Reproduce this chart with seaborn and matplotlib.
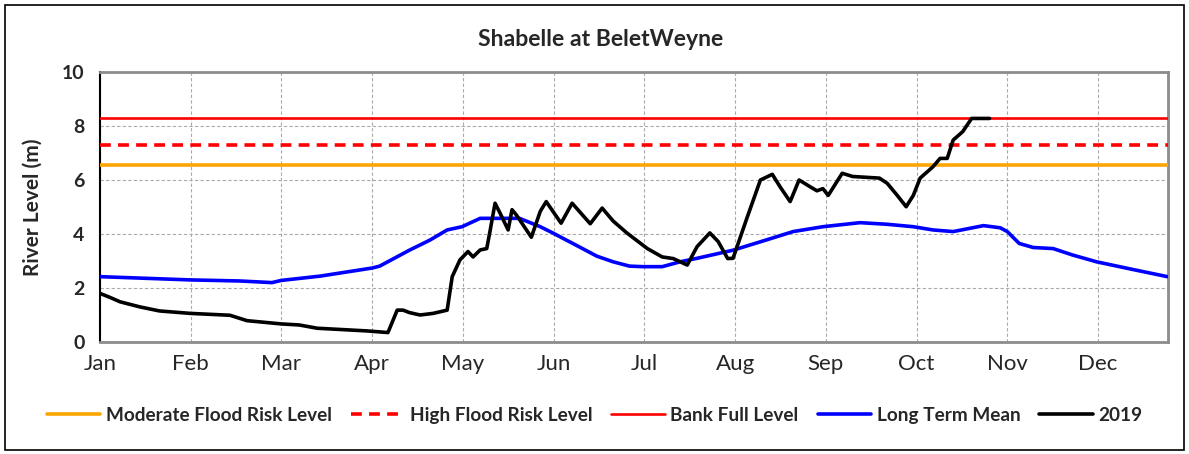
import numpy as np
import pandas as pd
import matplotlib
matplotlib.use("Agg")
import matplotlib.pyplot as plt
import seaborn as sns
from matplotlib.patches import Rectangle

# ---- data ----
months = ["Jan", "Feb", "Mar", "Apr", "May", "Jun", "Jul", "Aug", "Sep", "Oct", "Nov", "Dec"]
moderate_level = 6.55
high_level = 7.3
bankfull_level = 8.3

ltm_day = [0, 30.3, 47, 57.8, 60.9, 74, 91.5, 94, 104, 111, 116.7, 121.7, 127.8, 141, 148, 152,
           161, 167, 172.5, 178, 182.6, 189, 195, 200.7, 212.8, 224, 233, 243, 255.5, 264.6,
           273.4, 280, 286.8, 297, 302.6, 305, 309, 313.7, 320.4, 327, 335, 347, 358.8]
ltm_val = [2.42, 2.30, 2.26, 2.2, 2.28, 2.44, 2.74, 2.81, 3.4, 3.78, 4.15, 4.27, 4.58, 4.58, 4.27, 4.05,
           3.53, 3.18, 2.97, 2.81, 2.79, 2.79, 2.97, 3.1, 3.4, 3.78, 4.09, 4.27, 4.42, 4.36,
           4.27, 4.15, 4.09, 4.31, 4.23, 4.09, 3.65, 3.5, 3.46, 3.22, 2.97, 2.69, 2.42]

y19_day = [0, 3.4, 6.7, 13.4, 20, 30.3, 43.7, 49.4, 60.9, 67, 73, 89.8, 96.8, 99.9, 101.9, 104,
           107.6, 112, 116.7, 118.4, 121, 123.7, 125.4, 127.8, 130, 131, 132.8, 134.5, 137.2,
           138.5, 140, 145, 148, 150, 155, 158.7, 164.8, 168.8, 172.5, 177, 179, 184, 189,
           192.7, 197.4, 200.7, 205, 207.8, 211, 212.8, 217.5, 222, 226, 228.6, 232, 235,
           238.7, 241, 243, 244.8, 249.5, 253, 262, 264.6, 268, 271, 273.4, 275.7, 280,
           282.4, 284.8, 286.8, 290, 293, 299]
y19_val = [1.8, 1.65, 1.49, 1.3, 1.15, 1.06, 0.99, 0.79, 0.67, 0.63, 0.51, 0.41, 0.35, 1.18, 1.18, 1.09,
           1.0, 1.06, 1.18, 2.42, 3.04, 3.35, 3.15, 3.41, 3.46, 4.04, 5.14, 4.77, 4.15,
           4.9, 4.7, 3.88, 4.84, 5.2, 4.4, 5.14, 4.38, 4.96, 4.48, 4.05, 3.88, 3.46, 3.15,
           3.09, 2.85, 3.53, 4.04, 3.72, 3.09, 3.1, 4.6, 6.0, 6.21, 5.75, 5.2, 6.0,
           5.75, 5.6, 5.68, 5.43, 6.25, 6.13, 6.07, 5.88, 5.43, 5.01, 5.43, 6.07, 6.49,
           6.8, 6.8, 7.48, 7.79, 8.28, 8.28]

ltm_df = pd.DataFrame({"day": ltm_day, "level": ltm_val})
y19_df = pd.DataFrame({"day": y19_day, "level": y19_val})

# ---- style ----
sns.set_theme(style="white")
plt.rcParams["font.family"] = ["Lato", "DejaVu Sans"]

fig = plt.figure(figsize=(11.89, 4.54), dpi=100)
ax = fig.add_axes([0.0841, 0.2467, 0.8982, 0.5947])

month_len = 30.5
xmax = 359

ax.axhline(moderate_level, color="#FFA500", lw=2.6, label="Moderate Flood Risk Level", zorder=3)
ax.axhline(high_level, color="#FF0000", lw=2.6, ls=(0, (3, 2)), label="High Flood Risk Level", zorder=3)
ax.axhline(bankfull_level, color="#FF0000", lw=1.9, label="Bank Full Level", zorder=3)
sns.lineplot(data=ltm_df, x="day", y="level", ax=ax, color="#0000FF", lw=2.6,
             label="Long Term Mean", zorder=4)
sns.lineplot(data=y19_df, x="day", y="level", ax=ax, color="black", lw=2.6,
             label="2019", zorder=5)

ax.set_xlim(0, xmax)
ax.set_ylim(0, 10)
ax.set_xticks(np.arange(len(months)) * month_len)
ax.set_xticklabels(months, fontsize=16)
ax.set_xticks(np.arange(len(months)) * month_len + month_len / 2, minor=True)
ax.set_yticks([0, 2, 4, 6, 8, 10])
ax.set_yticklabels(["0", "2", "4", "6", "8", "10"], fontsize=14, fontweight="bold")
ax.tick_params(axis="x", which="major", direction="out", length=5, width=1, color="#555555", pad=4)
ax.tick_params(axis="x", which="minor", direction="in", length=4, width=1, color="#aaaaaa")
ax.tick_params(axis="y", which="major", direction="out", length=6, width=1, color="black", pad=5)
ax.set_xlabel("")
ax.set_ylabel("River Level (m)", fontsize=15, fontweight="bold", labelpad=14)

ax.grid(True, which="major", ls=(0, (3, 2)), color="#aaaaaa", lw=0.8)
for side in ["top", "right", "bottom"]:
    ax.spines[side].set_color("#8c8c8c")
    ax.spines[side].set_linewidth(2)
ax.spines["left"].set_color("black")
ax.spines["left"].set_linewidth(1.5)

fig.suptitle("Shabelle at BeletWeyne", fontsize=16.6, fontweight="bold", x=0.505, y=0.912,
             va="center")

handles, labels = ax.get_legend_handles_labels()
ax.legend(handles, labels, loc="center", bbox_to_anchor=(0.5, 0.085),
          bbox_transform=fig.transFigure, ncol=5, frameon=False,
          prop={"weight": "bold", "size": 13.7}, handlelength=2.8, handletextpad=0.3,
          columnspacing=1.0)

fig.patches.append(Rectangle((0.004, 0.008), 0.992, 0.982, transform=fig.transFigure,
                             fill=False, edgecolor="black", lw=1.2))

fig.savefig("out.png", dpi=100)
